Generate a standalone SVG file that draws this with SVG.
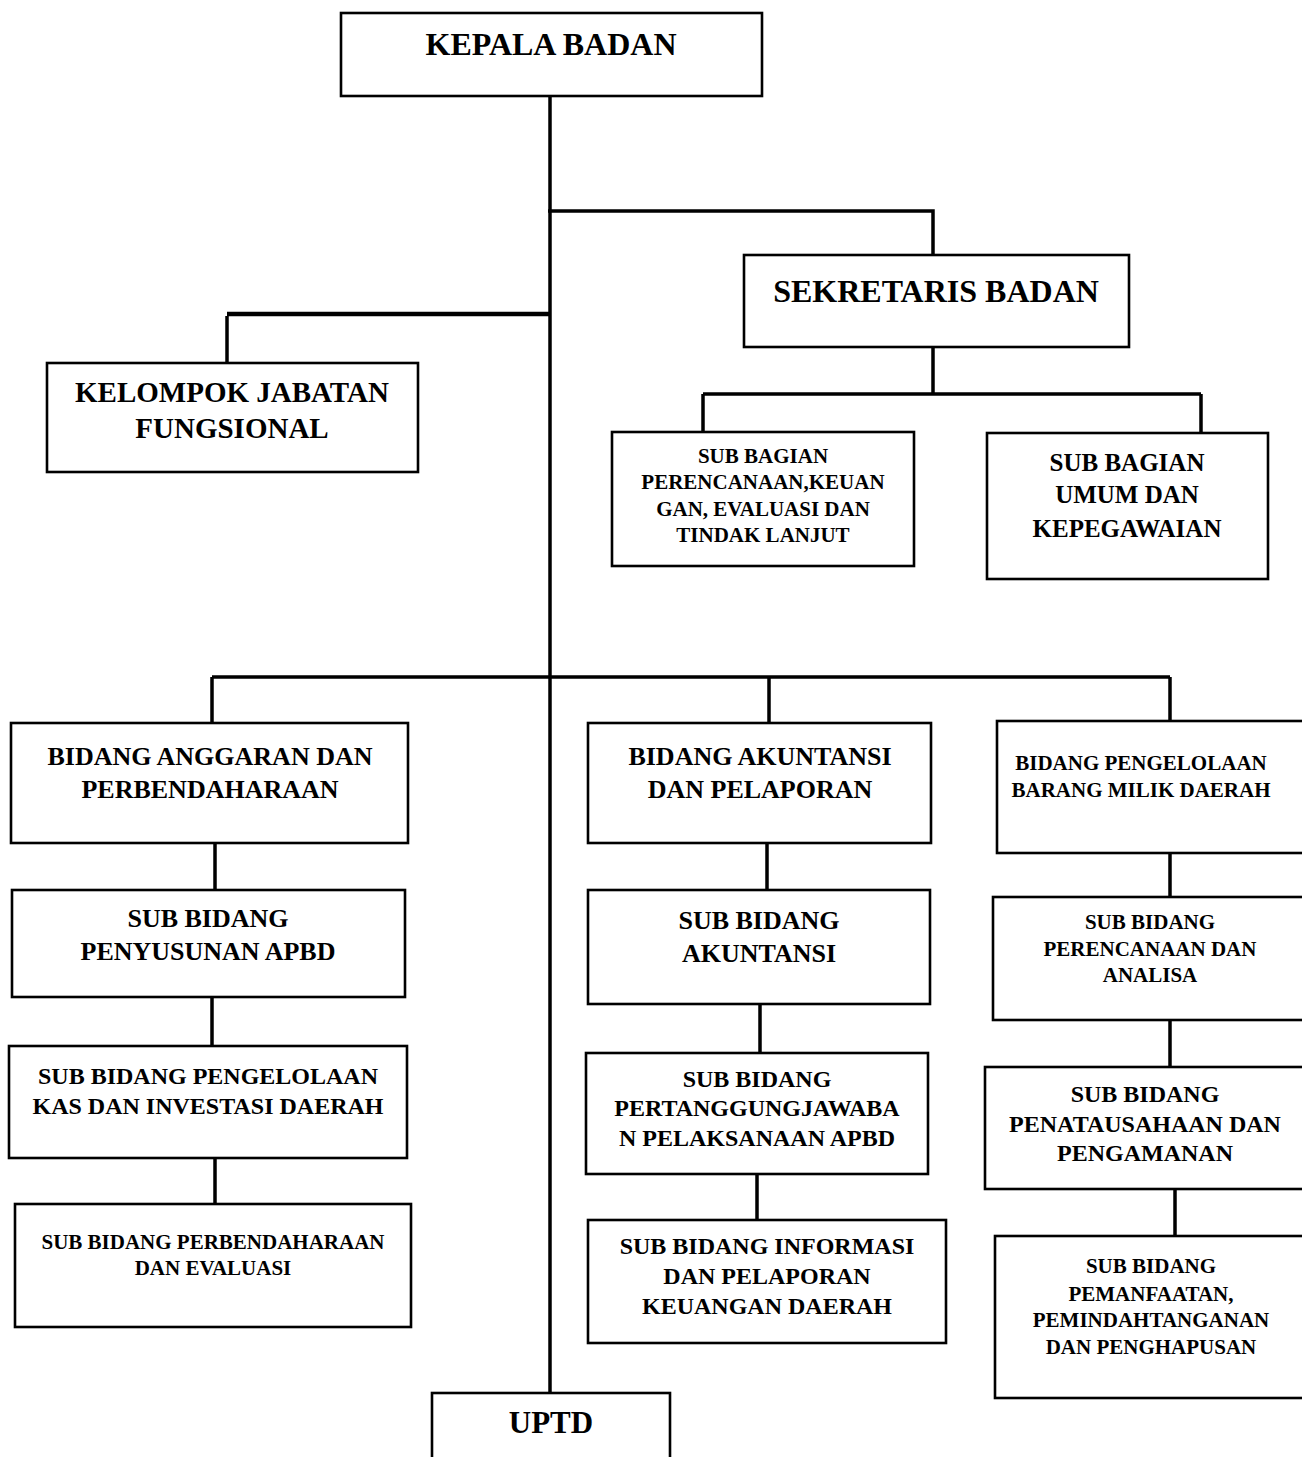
<svg xmlns="http://www.w3.org/2000/svg" width="1302" height="1457" viewBox="0 0 1302 1457">
<style>
.box{fill:#fff;stroke:#000;stroke-width:2.6}
.t{font-family:"Liberation Serif","Times New Roman",serif;font-weight:bold;text-anchor:middle;fill:#000}
.c{stroke:#000;stroke-width:3.5;fill:none}
</style>
<rect width="1302" height="1457" fill="#fff"/>
<g id="connectors">
<path class="c" d="M550 96V1393"/>
<path class="c" d="M548 211H933V255"/>
<path class="c" d="M227 314H550" style="stroke-width:4.5"/>
<path class="c" d="M227 316V363"/>
<path class="c" d="M933 347V394M703 394H1201M703 394V432M1201 394V433"/>
<path class="c" d="M212 677H1170M212 677V723M769 677V723M1170 677V721"/>
<path class="c" d="M215 843V890M212 997V1046M215 1158V1204"/>
<path class="c" d="M767 843V890M760 1004V1053M757 1174V1220"/>
<path class="c" d="M1170 853V897M1170 1020V1067M1175 1189V1236"/>
</g>
<g id="kepala"><rect class="box" x="341" y="13" width="421" height="83"/><text class="t" x="551" y="55" font-size="32">KEPALA BADAN</text></g>
<g id="sekretaris"><rect class="box" x="744" y="255" width="385" height="92"/><text class="t" x="936" y="302" font-size="32">SEKRETARIS BADAN</text></g>
<g id="kelompok"><rect class="box" x="47" y="363" width="371" height="109"/><text class="t" font-size="29"><tspan x="232" y="402">KELOMPOK JABATAN</tspan><tspan x="232" y="438">FUNGSIONAL</tspan></text></g>
<g id="subbag-perencanaan"><rect class="box" x="612" y="432" width="302" height="134"/><text class="t" font-size="21"><tspan x="763" y="463">SUB BAGIAN</tspan><tspan x="763" y="489">PERENCANAAN,KEUAN</tspan><tspan x="763" y="516">GAN, EVALUASI DAN</tspan><tspan x="763" y="542">TINDAK LANJUT</tspan></text></g>
<g id="subbag-umum"><rect class="box" x="987" y="433" width="281" height="146"/><text class="t" font-size="25"><tspan x="1127" y="471">SUB BAGIAN</tspan><tspan x="1127" y="503">UMUM DAN</tspan><tspan x="1127" y="537">KEPEGAWAIAN</tspan></text></g>
<g id="bidang-anggaran"><rect class="box" x="11" y="723" width="397" height="120"/><text class="t" font-size="26"><tspan x="210" y="765">BIDANG ANGGARAN DAN</tspan><tspan x="210" y="798">PERBENDAHARAAN</tspan></text></g>
<g id="sub-penyusunan"><rect class="box" x="12" y="890" width="393" height="107"/><text class="t" font-size="26"><tspan x="208" y="927">SUB BIDANG</tspan><tspan x="208" y="960">PENYUSUNAN APBD</tspan></text></g>
<g id="sub-kas"><rect class="box" x="9" y="1046" width="398" height="112"/><text class="t" font-size="24"><tspan x="208" y="1084">SUB BIDANG PENGELOLAAN</tspan><tspan x="208" y="1114">KAS DAN INVESTASI DAERAH</tspan></text></g>
<g id="sub-perbendaharaan"><rect class="box" x="15" y="1204" width="396" height="123"/><text class="t" font-size="21"><tspan x="213" y="1249">SUB BIDANG PERBENDAHARAAN</tspan><tspan x="213" y="1275">DAN EVALUASI</tspan></text></g>
<g id="bidang-akuntansi"><rect class="box" x="588" y="723" width="343" height="120"/><text class="t" font-size="26"><tspan x="760" y="765">BIDANG AKUNTANSI</tspan><tspan x="760" y="798">DAN PELAPORAN</tspan></text></g>
<g id="sub-akuntansi"><rect class="box" x="588" y="890" width="342" height="114"/><text class="t" font-size="26"><tspan x="759" y="929">SUB BIDANG</tspan><tspan x="759" y="962">AKUNTANSI</tspan></text></g>
<g id="sub-pertanggungjawaban"><rect class="box" x="586" y="1053" width="342" height="121"/><text class="t" font-size="24"><tspan x="757" y="1087">SUB BIDANG</tspan><tspan x="757" y="1116">PERTANGGUNGJAWABA</tspan><tspan x="757" y="1146">N PELAKSANAAN APBD</tspan></text></g>
<g id="sub-informasi"><rect class="box" x="588" y="1220" width="358" height="123"/><text class="t" font-size="24"><tspan x="767" y="1254">SUB BIDANG INFORMASI</tspan><tspan x="767" y="1284">DAN PELAPORAN</tspan><tspan x="767" y="1314">KEUANGAN DAERAH</tspan></text></g>
<g id="bidang-barang"><rect class="box" x="997" y="721" width="320" height="132"/><text class="t" font-size="21"><tspan x="1141" y="770">BIDANG PENGELOLAAN</tspan><tspan x="1141" y="797">BARANG MILIK DAERAH</tspan></text></g>
<g id="sub-perencanaan-analisa"><rect class="box" x="993" y="897" width="324" height="123"/><text class="t" font-size="21"><tspan x="1150" y="929">SUB BIDANG</tspan><tspan x="1150" y="956">PERENCANAAN DAN</tspan><tspan x="1150" y="982">ANALISA</tspan></text></g>
<g id="sub-penatausahaan"><rect class="box" x="985" y="1067" width="332" height="122"/><text class="t" font-size="24"><tspan x="1145" y="1102">SUB BIDANG</tspan><tspan x="1145" y="1132">PENATAUSAHAAN DAN</tspan><tspan x="1145" y="1161">PENGAMANAN</tspan></text></g>
<g id="sub-pemanfaatan"><rect class="box" x="995" y="1236" width="322" height="162"/><text class="t" font-size="21"><tspan x="1151" y="1273">SUB BIDANG</tspan><tspan x="1151" y="1301">PEMANFAATAN,</tspan><tspan x="1151" y="1327">PEMINDAHTANGANAN</tspan><tspan x="1151" y="1354">DAN PENGHAPUSAN</tspan></text></g>
<g id="uptd"><rect class="box" x="432" y="1393" width="238" height="90"/><text class="t" x="551" y="1433" font-size="31">UPTD</text></g>
</svg>
